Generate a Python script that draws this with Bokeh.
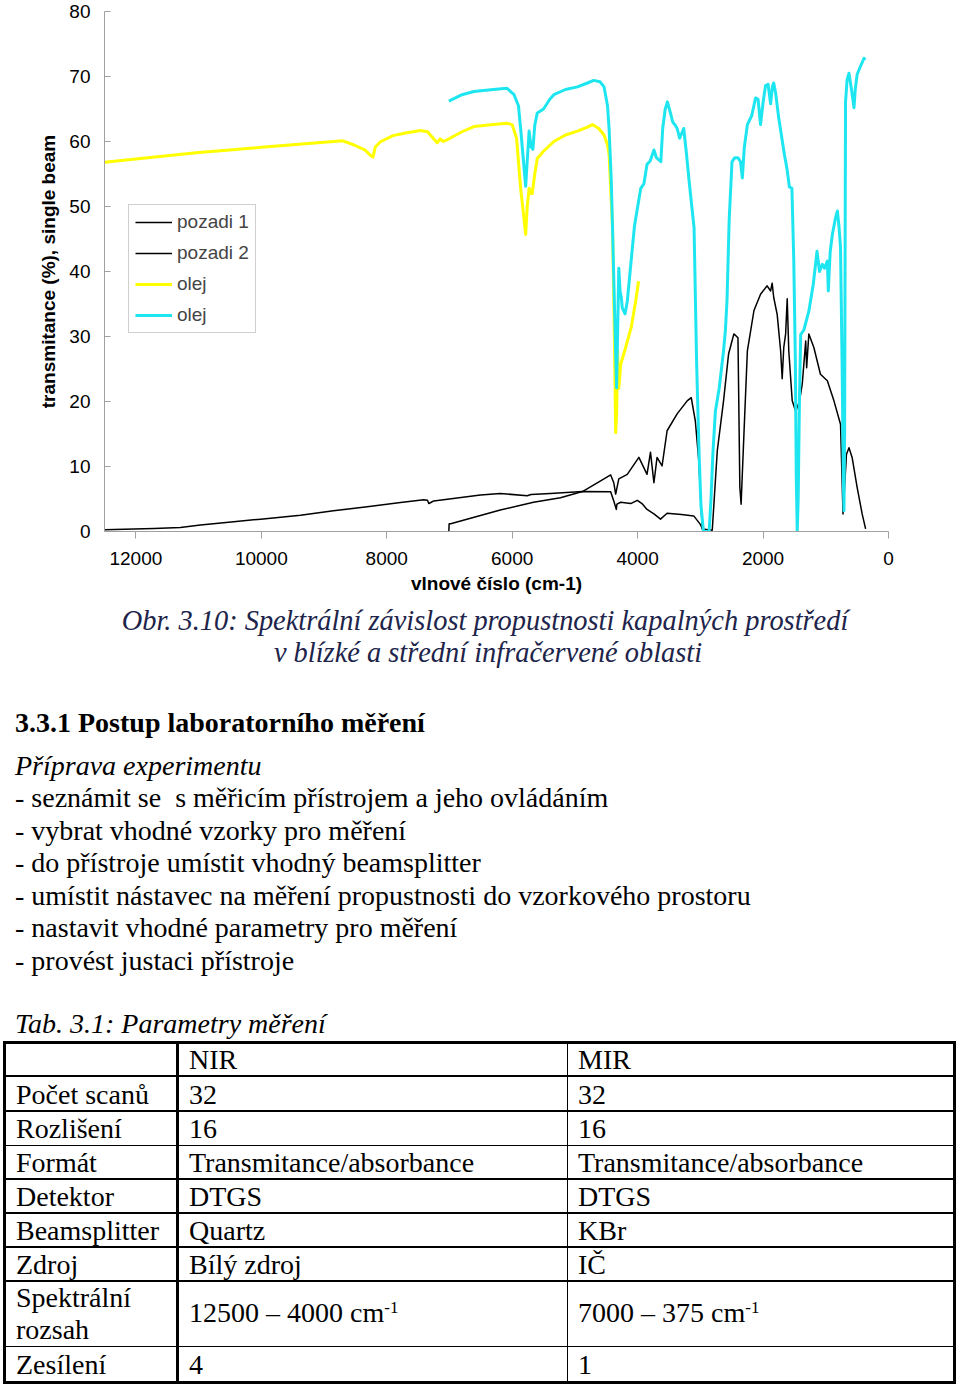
from bokeh.plotting import figure
from bokeh.models import Range1d, FixedTicker, Legend, LegendItem, Div
from bokeh.layouts import column
from bokeh.embed import file_html
from bokeh.resources import INLINE

# ---------------- chart data ----------------
x_ticks = [12000, 10000, 8000, 6000, 4000, 2000, 0]
x_tick_labels = ["12000", "10000", "8000", "6000", "4000", "2000", "0"]
y_ticks = [0, 10, 20, 30, 40, 50, 60, 70, 80]

wn_pozadi1 = [12500, 11710, 11290, 10970, 10440, 10010, 9375, 8850, 8310, 7780, 7410, 7350, 7330,
              7290, 7250, 6505, 6190, 5760, 5700, 5390, 4880, 4430, 4380, 4340, 4330, 4270, 4110,
              4005, 3920, 3850, 3740, 3635, 3530, 3300, 3105, 3000, 2945]
t_pozadi1 = [0.26, 0.46, 0.6, 1.0, 1.5, 1.9, 2.5, 3.2, 3.8, 4.45, 4.9, 4.8, 4.3,
             4.5, 4.7, 5.6, 5.85, 5.5, 5.7, 5.85, 6.15, 6.1, 4.7, 3.4, 4.2, 4.5, 4.3,
             4.8, 4.2, 3.4, 2.7, 1.9, 2.8, 2.6, 2.4, 1.1, 0.0]

wn_pozadi2 = [7010, 7005, 6980, 6190, 5660, 5230, 4880, 4590, 4430, 4380, 4350, 4300, 4165, 3980,
              3850, 3795, 3740, 3690, 3610, 3530, 3370, 3210, 3145, 3080, 3025, 2970, 2810, 2730,
              2630, 2550, 2465, 2400, 2370, 2350, 2305, 2250, 2145, 2040, 1935, 1880, 1855, 1830,
              1775, 1720, 1695, 1670, 1640, 1615, 1590, 1535, 1480, 1420, 1375, 1320, 1305, 1270,
              1190, 1085, 975, 870, 765, 725, 670, 630, 580, 500, 420, 365]
t_pozadi2 = [0.0, 1.2, 1.2, 3.3, 4.5, 5.2, 6.15, 7.8, 8.7, 7.5, 5.75, 8.1, 8.8, 11.4,
             8.8, 12.2, 7.5, 11.4, 10.1, 15.5, 18.1, 20.1, 20.6, 17.0, 10.9, 0.4, 0.2, 12.4,
             20.1, 27.3, 30.4, 29.8, 6.8, 4.2, 15.0, 27.8, 34.0, 36.5, 37.8, 37.0, 38.2, 36.0,
             33.4, 27.8, 23.5, 28.3, 30.4, 35.8, 27.8, 20.1, 18.5, 20.0, 22.7, 29.3, 25.2, 30.4,
             28.3, 24.2, 23.2, 20.1, 16.5, 2.7, 11.9, 12.9, 11.4, 6.8, 2.7, 0.4]

wn_olej_nir = [12500, 12000, 11500, 11000, 10500, 10000, 9500, 9000, 8700, 8530, 8350, 8250, 8220,
               8180, 8095, 7900, 7700, 7460, 7350, 7260, 7195, 7150, 7100, 7030, 6800, 6610, 6300,
               6085, 6000, 5930, 5865, 5810, 5785, 5760, 5730, 5700, 5680, 5640, 5600, 5500, 5335,
               5150, 4960, 4800, 4720, 4620, 4535, 4480, 4455, 4400, 4370, 4350, 4335, 4320, 4300,
               4270, 4200, 4100, 4030, 3985]
t_olej_nir = [56.8, 57.3, 57.8, 58.3, 58.7, 59.1, 59.5, 59.9, 60.1, 59.5, 58.7, 57.8, 57.6,
              59.2, 60.0, 60.9, 61.3, 61.7, 61.5, 60.5, 59.8, 60.4, 60.0, 60.3, 61.5, 62.3, 62.6,
              62.8, 62.6, 60.5, 52.8, 48.0, 45.7, 50.0, 52.8, 52.0, 52.0, 55.0, 57.4, 58.5, 60.0,
              61.0, 61.6, 62.2, 62.6, 62.0, 61.0, 59.5, 58.0, 46.7, 30.0, 15.2, 18.0, 28.0, 22.0,
              25.7, 28.0, 31.5, 35.5, 38.5]

wn_olej_mir = [7010, 6800, 6610, 6300, 6085, 5970, 5900, 5865, 5820, 5785, 5760, 5730, 5700, 5670,
               5640, 5600, 5500, 5400, 5335, 5150, 4960, 4800, 4700, 4600, 4535, 4480, 4455, 4420,
               4400, 4370, 4350, 4335, 4320, 4300, 4280, 4260, 4245, 4200, 4165, 4100, 4050, 3950,
               3900, 3850, 3800, 3740, 3700, 3630, 3600, 3560, 3525, 3480, 3440, 3400, 3370, 3330,
               3265, 3220, 3180, 3100, 3060, 3020, 2990, 2950, 2860, 2830, 2800, 2760, 2700, 2630,
               2600, 2575, 2540, 2495, 2450, 2400, 2360, 2330, 2300, 2250, 2180, 2120, 2080, 2040,
               2000, 1960, 1920, 1880, 1850, 1830, 1800, 1750, 1700, 1660, 1620, 1580, 1540, 1510,
               1485, 1470, 1455, 1440, 1420, 1400, 1350, 1270, 1200, 1140, 1100, 1055, 1020, 975,
               960, 930, 895, 850, 815, 790, 765, 740, 720, 710, 700, 695, 685, 660, 630, 590, 550,
               530, 500, 450, 390, 375]
t_olej_mir = [66.2, 67.2, 67.7, 68.0, 68.2, 67.2, 65.5, 62.0, 57.0, 53.1, 57.0, 61.6, 59.2, 58.8,
              62.5, 64.4, 65.0, 66.5, 67.2, 68.0, 68.4, 69.0, 69.4, 69.2, 68.4, 65.5, 62.0, 54.0,
              46.7, 35.0, 27.3, 22.1, 30.0, 40.5, 37.0, 36.0, 34.4, 33.5, 35.4, 42.0, 47.0, 52.8,
              53.5, 56.5, 57.0, 58.7, 57.5, 56.9, 62.0, 65.0, 66.1, 64.5, 63.0, 62.5, 62.0, 60.5,
              62.0, 58.0, 54.0, 46.7, 26.2, 12.0, 4.0, 0.0, 0.0, 5.0, 12.0, 18.5, 22.0, 27.8,
              31.0, 35.5, 48.0, 56.9, 57.5, 57.5, 56.9, 54.4, 59.0, 62.6, 64.0, 66.7, 66.5, 62.6,
              66.0, 68.6, 68.8, 65.8, 68.5, 69.0, 67.5, 63.6, 60.5, 58.0, 55.9, 53.0, 52.8, 41.6,
              26.2, 8.0, 0.0, 5.0, 20.0, 30.3, 31.0, 33.9, 38.0, 43.1, 40.0, 41.1, 40.5, 41.6,
              37.0, 43.0, 45.7, 48.0, 49.3, 47.0, 43.7, 26.2, 8.0, 3.2, 15.0, 31.3, 66.1, 69.5, 70.5, 68.0, 65.2,
              68.0, 70.3, 71.5, 72.8, 72.5]

series_labels = ["pozadi 1", "pozadi 2", "olej", "olej"]
series_colors = ["#000000", "#000000", "#FFFF00", "#1EE6F0"]
series_widths = [1.5, 1.5, 3, 3]

x_label = "vlnové číslo (cm-1)"
y_label = "transmitance (%), single beam"

# ---------------- text / table data ----------------
caption_lines = ["Obr. 3.10: Spektrální závislost propustnosti kapalných prostředí",
                 "v blízké a střední infračervené oblasti"]
heading = "3.3.1 Postup laboratorního měření"
subheading = "Příprava experimentu"
steps = ["- seznámit se&nbsp; s měřicím přístrojem a jeho ovládáním",
         "- vybrat vhodné vzorky pro měření",
         "- do přístroje umístit vhodný beamsplitter",
         "- umístit nástavec na měření propustnosti do vzorkového prostoru",
         "- nastavit vhodné parametry pro měření",
         "- provést justaci přístroje"]
table_caption = "Tab. 3.1: Parametry měření"
table_header = ["", "NIR", "MIR"]
table_params = ["Počet scanů", "Rozlišení", "Formát", "Detektor", "Beamsplitter", "Zdroj",
                "Spektrální|rozsah", "Zesílení"]
table_nir = ["32", "16", "Transmitance/absorbance", "DTGS", "Quartz", "Bílý zdroj",
             "12500 – 4000 cm^-1", "4"]
table_mir = ["32", "16", "Transmitance/absorbance", "DTGS", "KBr", "IČ",
             "7000 – 375 cm^-1", "1"]

SANS = "Liberation Sans"
SERIF_CSS = "'Liberation Serif', 'Times New Roman', serif"

CHART_H = 600
TOTAL_W, TOTAL_H = 960, 1384

# ---------------- chart ----------------
p = figure(width=TOTAL_W, height=CHART_H, x_range=Range1d(12500, 0), y_range=Range1d(0, 80),
           output_backend="svg", toolbar_location=None,
           min_border_left=104, min_border_right=72, min_border_top=11, min_border_bottom=69,
           x_axis_label=x_label, y_axis_label=y_label)
p.outline_line_color = None
p.grid.visible = False
p.background_fill_color = "white"
p.border_fill_color = "white"

for ax in (p.xaxis[0], p.yaxis[0]):
    ax.axis_line_color = "#a0a0a0"
    ax.major_tick_line_color = "#a0a0a0"
    ax.minor_tick_line_color = None
    ax.major_label_text_font = SANS
    ax.major_label_text_font_size = "19px"
    ax.major_label_text_color = "black"
    ax.axis_label_text_font = SANS
    ax.axis_label_text_font_size = "19px"
    ax.axis_label_text_font_style = "bold"
    ax.axis_label_text_color = "black"

p.xaxis.ticker = FixedTicker(ticks=x_ticks)
p.xaxis.major_label_overrides = {t: l for t, l in zip(x_ticks, x_tick_labels)}
p.xaxis.major_tick_out = 7
p.xaxis.major_tick_in = 0
p.xaxis.major_label_standoff = 13
p.xaxis.axis_label_standoff = 5

p.yaxis.ticker = FixedTicker(ticks=y_ticks)
p.yaxis.major_tick_out = 0
p.yaxis.major_tick_in = 6
p.yaxis.major_label_standoff = 14
p.yaxis.axis_label_standoff = 7

renderers = []
for wn, tv, c, w in zip([wn_pozadi1, wn_pozadi2, wn_olej_nir, wn_olej_mir],
                        [t_pozadi1, t_pozadi2, t_olej_nir, t_olej_mir],
                        series_colors, series_widths):
    r = p.line(wn, tv, line_color=c, line_width=w, line_join="round")
    renderers.append(r)

legend = Legend(items=[LegendItem(label=lab, renderers=[r]) for lab, r in zip(series_labels, renderers)],
                location=(24, 198), orientation="vertical", padding=6, spacing=9, margin=0,
                glyph_width=37, glyph_height=20, label_height=20, label_standoff=5,
                label_text_font=SANS, label_text_font_size="19px",
                border_line_color="#a0a0a0", border_line_width=1,
                background_fill_color="white", background_fill_alpha=1)
p.add_layout(legend)

# ---------------- text + table (HTML) ----------------
parts = []

def fmt(s):
    if "^" in s:
        base, sup = s.split("^")
        return (base + '<span style="font-size:17px;position:relative;top:-9px;">'
                + sup + "</span>")
    return s

def place(x, baseline, text, size=28, style="normal", weight="normal", color="black", align="left"):
    top = baseline - CHART_H - 0.8375 * size
    if align == "center":
        left, width, ta = x - 480, 960, "center"
    else:
        left, width, ta = x, 940 - x, "left"
    parts.append(
        f'<div style="position:absolute;left:{left:.1f}px;top:{top:.1f}px;width:{width}px;'
        f'text-align:{ta};white-space:nowrap;font-family:{SERIF_CSS};font-size:{size}px;'
        f'line-height:{size}px;font-style:{style};font-weight:{weight};color:{color};">'
        f'{fmt(text)}</div>')

def hline(y, x0, x1, th):
    parts.append(f'<div style="position:absolute;left:{x0 - th / 2:.1f}px;top:{y - th / 2 - CHART_H:.1f}px;'
                 f'width:{x1 - x0 + th:.1f}px;height:{th}px;background:black;"></div>')

def vline(x, y0, y1, th):
    parts.append(f'<div style="position:absolute;left:{x - th / 2:.1f}px;top:{y0 - th / 2 - CHART_H:.1f}px;'
                 f'width:{th}px;height:{y1 - y0 + th:.1f}px;background:black;"></div>')

# caption
place(485, 631, caption_lines[0], size=28.4, style="italic", color="#20244a", align="center")
place(488, 663, caption_lines[1], size=28.4, style="italic", color="#20244a", align="center")
# heading, steps
place(15, 732, heading, weight="bold")
place(15, 775, subheading, style="italic")
for s, yb in zip(steps, [807, 840, 872, 905, 937, 970]):
    place(15, yb, s)
place(15, 1033, table_caption, style="italic")

# table grid
row_lines = [1042, 1076, 1111, 1145.5, 1179, 1213, 1247, 1281, 1346.5, 1382]
x_left, x_c1, x_c2, x_right = 4.5, 177.5, 567.5, 954.5
for y in row_lines[2:-1]:
    hline(y, x_left, x_right, 1.6)
hline(row_lines[1], x_left, x_right, 2.6)
vline(x_c2, row_lines[0], row_lines[-1], 1.6)
vline(x_c1, row_lines[0], row_lines[-1], 3)
hline(row_lines[0], x_left, x_right, 3)
hline(row_lines[-1], x_left, x_right, 3)
vline(x_left, row_lines[0], row_lines[-1], 3)
vline(x_right, row_lines[0], row_lines[-1], 3)

col_x = [16, 189, 578]
place(col_x[1], 1069, table_header[1])
place(col_x[2], 1069, table_header[2])
row_base = [1104, 1138, 1172, 1206, 1240, 1274, 1322, 1374]
for i, (par, nir, mir) in enumerate(zip(table_params, table_nir, table_mir)):
    yb = row_base[i]
    if "|" in par:
        l1, l2 = par.split("|")
        place(col_x[0], 1307, l1)
        place(col_x[0], 1339, l2)
    else:
        place(col_x[0], yb, par)
    place(col_x[1], yb, nir)
    place(col_x[2], yb, mir)

html = (f'<div style="position:relative;width:{TOTAL_W}px;height:{TOTAL_H - CHART_H}px;'
        f'overflow:hidden;background:white;">' + "".join(parts) + "</div>")
div = Div(text=html, width=TOTAL_W, height=TOTAL_H - CHART_H, margin=0)

layout = column(p, div, spacing=0)
open("out.html", "w").write(file_html(layout, INLINE))
